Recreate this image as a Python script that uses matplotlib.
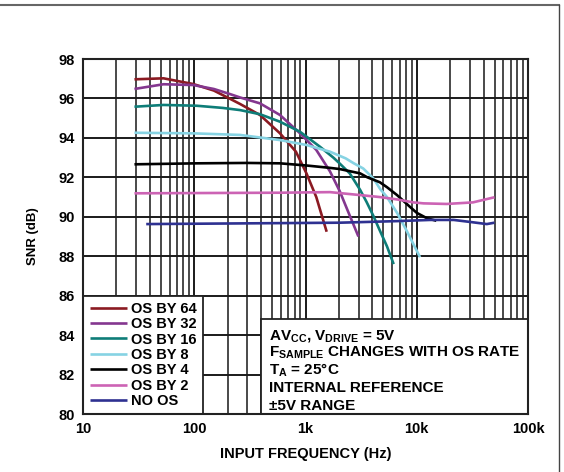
import numpy as np
import matplotlib
matplotlib.use('Agg')
import matplotlib.pyplot as plt
from matplotlib.patches import Rectangle
from matplotlib.lines import Line2D
from matplotlib.ticker import FixedLocator, NullFormatter

plt.rcParams['font.family'] = ['Liberation Sans', 'DejaVu Sans']
plt.rcParams['font.weight'] = 'bold'
plt.rcParams['mathtext.fontset'] = 'custom'
plt.rcParams['mathtext.rm'] = 'Liberation Sans:bold'
plt.rcParams['mathtext.bf'] = 'Liberation Sans:bold'
plt.rcParams['mathtext.it'] = 'Liberation Sans:bold'

# data
f_os64 = [29, 53, 98, 150, 210, 258, 390, 590, 820, 1020, 1250, 1550]
snr_os64 = [96.97, 97.02, 96.73, 96.4, 95.98, 95.72, 95.16, 94.23, 93.3, 92.2, 91.0, 89.24]
f_os32 = [29, 53, 98, 150, 210, 258, 390, 590, 893, 1250, 1660, 2030, 2400, 2990]
snr_os32 = [96.48, 96.72, 96.68, 96.48, 96.22, 96.05, 95.75, 95.16, 94.23, 93.39, 92.3, 91.3, 90.3, 89.0]
f_os16 = [29, 53, 105, 180, 258, 390, 590, 893, 1350, 1780, 2030, 2500, 3100, 3540, 4070, 4660, 5400, 6200]
snr_os16 = [95.58, 95.67, 95.63, 95.52, 95.41, 95.2, 94.82, 94.31, 93.55, 93.0, 92.7, 92.2, 91.36,
            90.75, 90.05, 89.3, 88.5, 87.6]
f_os8 = [29, 98, 258, 590, 1020, 1660, 2300, 2700, 3300, 4070, 4700, 5400, 6650, 8100, 10700]
snr_os8 = [94.26, 94.23, 94.15, 93.89, 93.64, 93.3, 92.96, 92.72, 92.45, 91.95, 91.4, 91.0,
           90.2, 89.3, 87.95]
f_os4 = [29, 105, 300, 590, 1020, 1660, 2030, 3100, 3600, 4660, 5400, 6650, 8700, 10000, 12400, 15000]
snr_os4 = [92.66, 92.71, 92.73, 92.71, 92.6, 92.48, 92.42, 92.2, 92.0, 91.75, 91.5, 91.1, 90.5,
           90.2, 89.92, 89.8]
f_os2 = [29, 590, 1660, 3100, 4660, 6650, 9300, 11500, 18600, 32000, 50000]
snr_os2 = [91.19, 91.22, 91.25, 91.1, 91.0, 90.88, 90.73, 90.68, 90.65, 90.73, 90.99]
f_noos = [37, 2030, 6650, 13200, 21500, 32000, 42600, 50000]
snr_noos = [89.63, 89.7, 89.78, 89.84, 89.84, 89.72, 89.63, 89.7]

labels = ['OS BY 64', 'OS BY 32', 'OS BY 16', 'OS BY 8', 'OS BY 4', 'OS BY 2', 'NO OS']
colors = ['#8b1a22', '#84378f', '#0e7d78', '#86d3e3', '#000000', '#cc63b4', '#2e3191']
series = [(f_os64, snr_os64), (f_os32, snr_os32), (f_os16, snr_os16), (f_os8, snr_os8),
          (f_os4, snr_os4), (f_os2, snr_os2), (f_noos, snr_noos)]

x_ticks = [10, 100, 1000, 10000, 100000]
x_ticklabels = ['10', '100', '1k', '10k', '100k']
y_ticks = [80, 82, 84, 86, 88, 90, 92, 94, 96, 98]

fig = plt.figure(figsize=(5.64, 4.72), dpi=100)
ax = fig.add_axes([83/564, 58/472, 445/564, 355/472])
ax.set_xscale('log')
ax.set_xlim(10, 100000)
ax.set_ylim(80, 98)

ax.set_xticks(x_ticks)
ax.set_xticklabels(x_ticklabels)
ax.xaxis.set_minor_locator(FixedLocator([m * d for d in [10, 100, 1000, 10000] for m in range(2, 10)]))
ax.xaxis.set_minor_formatter(NullFormatter())
ax.set_yticks(y_ticks)
ax.tick_params(which='both', length=0, labelsize=10.5, pad=6)
for lab in ax.get_xticklabels() + ax.get_yticklabels():
    lab.set_fontweight('bold')

ax.set_axisbelow(True)
ax.grid(True, which='major', color='#1a1a1a', linewidth=1.4)
ax.grid(True, which='minor', axis='x', color='#2a2a2a', linewidth=1.2)
for s in ax.spines.values():
    s.set_linewidth(1.5)
    s.set_color('#222222')

for (f, s), c, lab in zip(series, colors, labels):
    ax.plot(f, s, color=c, linewidth=1.9, label=lab, zorder=3, solid_capstyle='butt')

# legend box and note box
ax.add_patch(Rectangle((10, 80), 110, 6, facecolor='white', edgecolor='#222222',
                       linewidth=1.3, zorder=2))
ax.add_patch(Rectangle((400, 80), 100000 - 400, 4.8, facecolor='white', edgecolor='#222222',
                       linewidth=1.3, zorder=2))

leg = ax.legend(loc='upper left', bbox_to_anchor=(0.0, 0.337), frameon=False,
                handlelength=2.5, handletextpad=0.27, labelspacing=0.1,
                borderaxespad=0.1, prop={'weight': 'bold', 'size': 10.5})
leg.set_zorder(4)

notes = [r'AV$_{\mathrm{CC}}$, V$_{\mathrm{DRIVE}}$ = 5V',
         r'F$_{\mathrm{SAMPLE}}$ CHANGES WITH OS RATE',
         r'T$_{\mathrm{A}}$ = 25°C',
         'INTERNAL REFERENCE',
         '±5V RANGE']
note_y = [83.93, 83.08, 82.22, 81.33, 80.43]
for t, yv in zip(notes, note_y):
    ax.text(470, yv, t, fontsize=11, fontweight='bold', va='center', ha='left', zorder=4)

ax.set_ylabel('SNR (dB)', fontsize=9.5, fontweight='bold', labelpad=14)
ax.set_xlabel('INPUT FREQUENCY (Hz)', fontsize=10.5, fontweight='bold', labelpad=8)

# page border lines
fig.add_artist(Line2D([0, 559/564], [1 - 5/472, 1 - 5/472], color='#666666', linewidth=1.5))
fig.add_artist(Line2D([559/564, 559/564], [0, 1 - 5/472], color='#444444', linewidth=1.0))

fig.savefig('out.png', dpi=100)
